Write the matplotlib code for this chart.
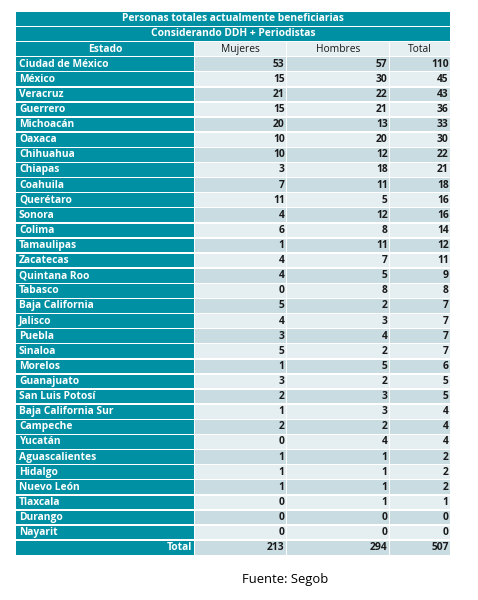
import matplotlib.pyplot as plt
from matplotlib.patches import Rectangle

# datos de la tabla
titulo = "Personas totales actualmente beneficiarias"
subtitulo = "Considerando DDH + Periodistas"
encabezados = ["Estado", "Mujeres", "Hombres", "Total"]
estados = ["Ciudad de México", "México", "Veracruz", "Guerrero", "Michoacán", "Oaxaca",
           "Chihuahua", "Chiapas", "Coahuila", "Querétaro", "Sonora", "Colima",
           "Tamaulipas", "Zacatecas", "Quintana Roo", "Tabasco", "Baja California",
           "Jalisco", "Puebla", "Sinaloa", "Morelos", "Guanajuato", "San Luis Potosí",
           "Baja California Sur", "Campeche", "Yucatán", "Aguascalientes", "Hidalgo",
           "Nuevo León", "Tlaxcala", "Durango", "Nayarit"]
mujeres = [53, 15, 21, 15, 20, 10, 10, 3, 7, 11, 4, 6, 1, 4, 4, 0, 5, 4, 3, 5, 1, 3, 2, 1,
           2, 0, 1, 1, 1, 0, 0, 0]
hombres = [57, 30, 22, 21, 13, 20, 12, 18, 11, 5, 12, 8, 11, 7, 5, 8, 2, 3, 4, 2, 5, 2, 3, 3,
           2, 4, 1, 1, 1, 1, 0, 0]
total = [110, 45, 43, 36, 33, 30, 22, 21, 18, 16, 16, 14, 12, 11, 9, 8, 7, 7, 7, 7, 6, 5, 5,
         4, 4, 4, 2, 2, 2, 1, 0, 0]
fuente = "Fuente: Segob"

TEAL = "#0090a3"
OSCURO = "#c9dce1"
CLARO = "#e5eef1"
TXT = "#1a1a1a"
FAM = ["Open Sans", "DejaVu Sans"]
FS = 7.4

fig = plt.figure(figsize=(4.78, 6), dpi=100)
ax = fig.add_axes([0, 0, 1, 1])
ax.set_xlim(0, 478)
ax.set_ylim(600, 0)
ax.axis("off")

top = 12
paso = 544 / 36
gap = 1.4
bordes = [16, 195.5, 287.5, 390.5, 451.5]


def celda(fila, c0, c1, color):
    y = top + fila * paso
    ax.add_patch(Rectangle((bordes[c0], y), bordes[c1] - bordes[c0] - gap, paso - gap,
                           facecolor=color, edgecolor="none"))
    return y + (paso - gap) / 2


# titulo y subtitulo
yc = celda(0, 0, 4, TEAL)
ax.text(233, yc, titulo, color="white", fontsize=FS, fontweight="bold",
        family=FAM, ha="center", va="center")
yc = celda(1, 0, 4, TEAL)
ax.text(233, yc, subtitulo, color="white", fontsize=FS, fontweight="bold",
        family=FAM, ha="center", va="center")

# encabezados
yc = celda(2, 0, 1, TEAL)
ax.text((bordes[0] + bordes[1]) / 2, yc, encabezados[0], color="white", fontsize=FS,
        fontweight="bold", family=FAM, ha="center", va="center")
for j in range(1, 4):
    yc = celda(2, j, j + 1, CLARO)
    ax.text((bordes[j] + bordes[j + 1] - gap) / 2, yc, encabezados[j], color=TXT,
            fontsize=FS, family=FAM, ha="center", va="center")

# filas de estados
for i, est in enumerate(estados):
    fila = i + 3
    fondo = OSCURO if i % 2 == 0 else CLARO
    yc = celda(fila, 0, 1, TEAL)
    ax.text(19, yc, est, color="white", fontsize=FS, fontweight="bold", family=FAM,
            ha="left", va="center")
    for j, serie in enumerate([mujeres, hombres, total], start=1):
        celda(fila, j, j + 1, fondo)
        ax.text(bordes[j + 1] - gap - 1.5, yc, str(serie[i]), color=TXT, fontsize=FS,
                fontweight="bold", family=FAM, ha="right", va="center")

# fila de totales
fila = len(estados) + 3
yc = celda(fila, 0, 1, TEAL)
ax.text(bordes[1] - gap - 1.5, yc, "Total", color="white", fontsize=FS, fontweight="bold",
        family=FAM, ha="right", va="center")
for j, serie in enumerate([mujeres, hombres, total], start=1):
    celda(fila, j, j + 1, OSCURO)
    ax.text(bordes[j + 1] - gap - 1.5, yc, str(sum(serie)), color=TXT, fontsize=FS,
            fontweight="bold", family=FAM, ha="right", va="center")

ax.text(285, 580, fuente, color="black", fontsize=9.4, family=["Open Sans", "DejaVu Sans"],
        ha="center", va="center")

fig.savefig("out.png", dpi=100)
